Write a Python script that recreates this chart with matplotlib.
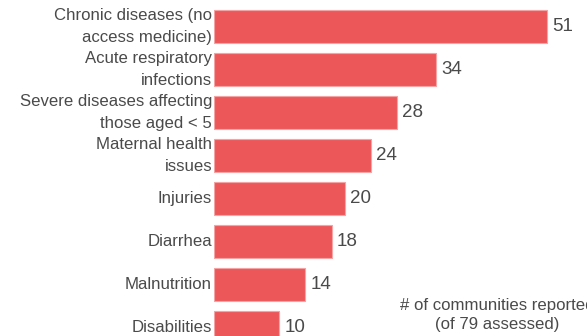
import matplotlib.pyplot as plt

plt.rcParams["font.family"] = ["Liberation Sans", "DejaVu Sans"]

# -----------------------------------------------------
# DATA
# -----------------------------------------------------

categories = [
    "Chronic diseases (no\naccess medicine)",
    "Acute respiratory\ninfections",
    "Severe diseases affecting\nthose aged < 5",
    "Maternal health\nissues",
    "Injuries",
    "Diarrhea",
    "Malnutrition",
    "Disabilities",
]
counts = [51, 34, 28, 24, 20, 18, 14, 10]
note = "# of communities reported\n(of 79 assessed)"

BAR_COLOR = "#EC575A"
TEXT_COLOR = "#4a4a4a"

# -----------------------------------------------------
# PLOT
# -----------------------------------------------------

fig = plt.figure(figsize=(5.87, 3.36), dpi=100)
ax = fig.add_axes([214 / 587, 0, 1 - 214 / 587, 1])

ypos = list(range(len(categories)))
ax.barh(ypos, counts, height=0.79, color=BAR_COLOR,
        edgecolor="#F5A3A3", linewidth=0.8)

ax.set_xlim(0, 373 / 6.53)
ax.set_ylim((336 - 26.5) / 43, -26.5 / 43)

for y, c in zip(ypos, counts):
    ax.text(c + 0.8, y, str(c), va="center", ha="left",
            fontsize=13.5, color=TEXT_COLOR)

for y, label in zip(ypos, categories):
    ax.text(-0.3, y, label, va="center", ha="right", fontsize=12.1,
            color=TEXT_COLOR, linespacing=1.55, clip_on=False)

ax.text(43.4, 6.71, note, ha="center", va="center", fontsize=12.1,
        color=TEXT_COLOR, linespacing=1.4)

ax.axis("off")

fig.savefig("out.png", dpi=100)
